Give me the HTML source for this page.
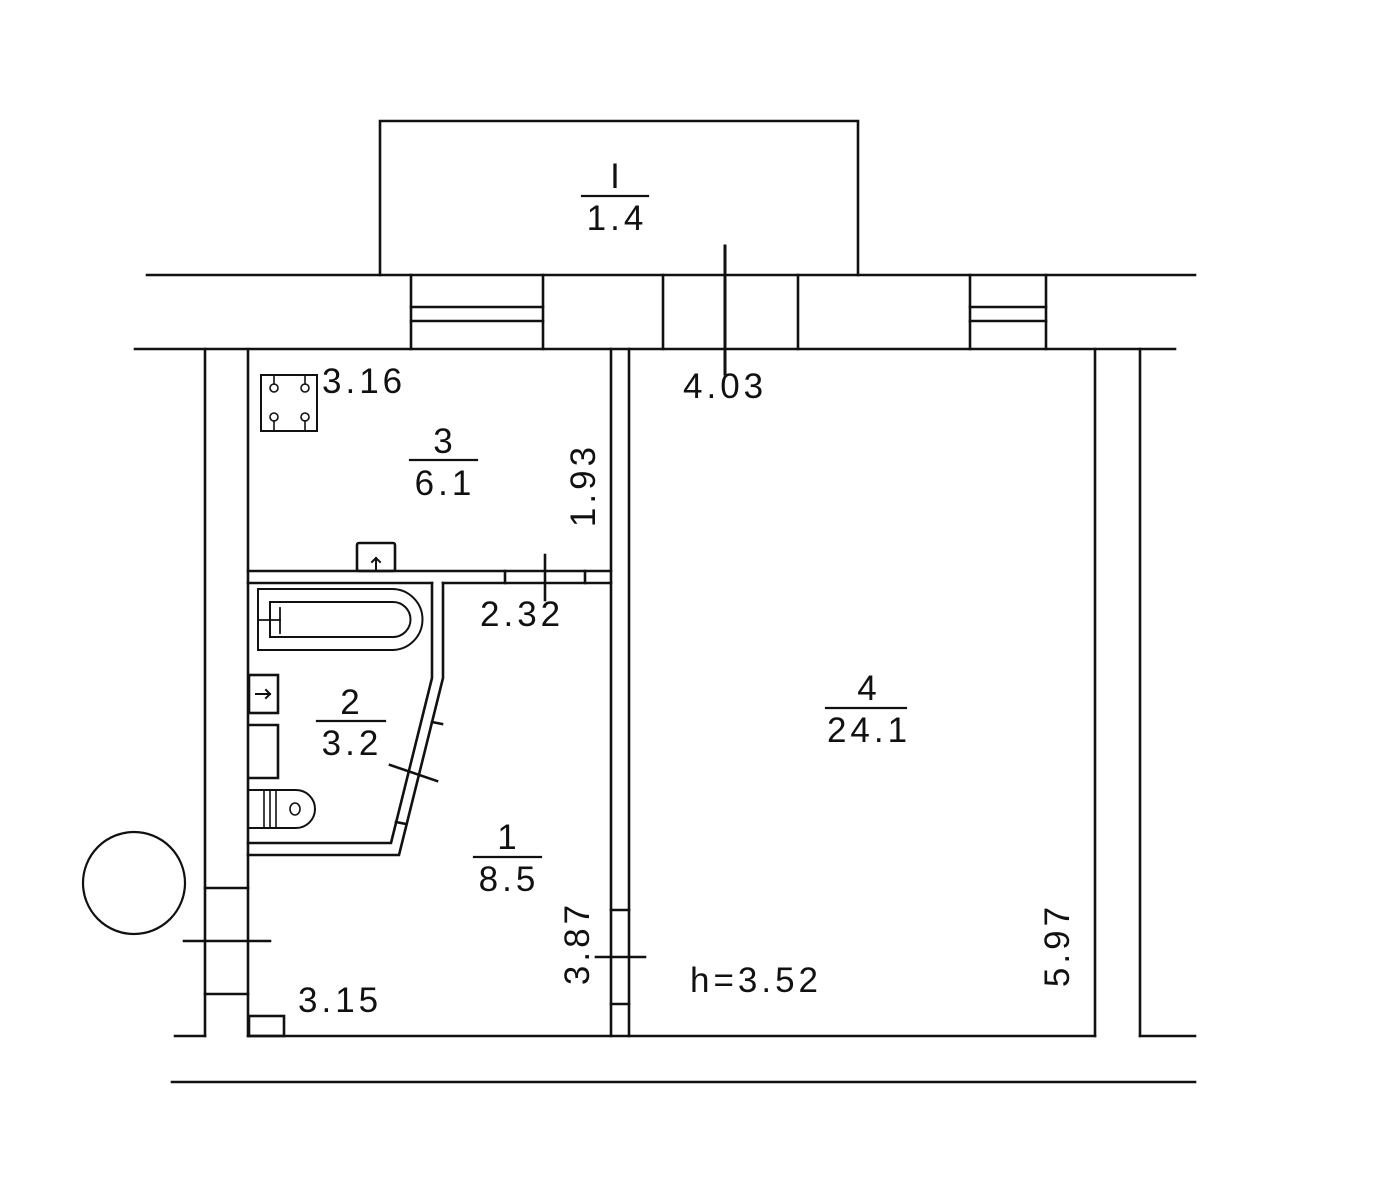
<!DOCTYPE html>
<html><head><meta charset="utf-8"><style>
html,body{margin:0;padding:0;background:#fff;}
svg{display:block;}
text{font-family:"Liberation Sans",sans-serif;font-size:35px;fill:#111;letter-spacing:4px;}
</style></head><body>
<svg width="1386" height="1200" viewBox="0 0 1386 1200" xmlns="http://www.w3.org/2000/svg">
<g stroke="#111" stroke-width="2.6" fill="none" stroke-linecap="square">
<polyline points="380,275 380,121 858,121 858,275"/>
<line x1="147" y1="275" x2="1195" y2="275"/>
<line x1="135" y1="349" x2="1175" y2="349"/>
<line x1="411" y1="275" x2="411" y2="349"/><line x1="543" y1="275" x2="543" y2="349"/>
<line x1="411" y1="307" x2="543" y2="307"/><line x1="411" y1="321" x2="543" y2="321"/>
<line x1="663" y1="275" x2="663" y2="349"/><line x1="798" y1="275" x2="798" y2="349"/>
<line x1="970" y1="275" x2="970" y2="349"/><line x1="1046" y1="275" x2="1046" y2="349"/>
<line x1="970" y1="307" x2="1046" y2="307"/><line x1="970" y1="321" x2="1046" y2="321"/>
<line x1="725" y1="246" x2="725" y2="374" stroke-width="3"/>
<line x1="205" y1="349" x2="205" y2="1036"/>
<line x1="248" y1="349" x2="248" y2="1036"/>
<line x1="205" y1="888" x2="248" y2="888"/>
<line x1="205" y1="994" x2="248" y2="994"/>
<line x1="184" y1="941" x2="270" y2="941"/>
<line x1="175" y1="1036" x2="205" y2="1036"/>
<line x1="248" y1="1036" x2="1095" y2="1036"/>
<rect x="249" y="1016" width="35" height="20"/>
<line x1="1095" y1="349" x2="1095" y2="1036"/>
<line x1="1140" y1="349" x2="1140" y2="1036"/>
<line x1="1140" y1="1036" x2="1195" y2="1036"/>
<line x1="172" y1="1082" x2="1195" y2="1082"/>
<line x1="611" y1="349" x2="611" y2="1036"/>
<line x1="629" y1="349" x2="629" y2="1036"/>
<line x1="611" y1="910" x2="629" y2="910"/><line x1="611" y1="1004" x2="629" y2="1004"/>
<line x1="596" y1="957" x2="645" y2="957"/>
<line x1="248" y1="571" x2="611" y2="571"/>
<line x1="248" y1="583" x2="432" y2="583"/>
<line x1="443" y1="583" x2="611" y2="583"/>
<line x1="505" y1="571" x2="505" y2="583"/><line x1="585" y1="571" x2="585" y2="583"/>
<line x1="545" y1="555" x2="545" y2="600"/>
<polyline points="432,583 432,678 391,843 248,843"/>
<polyline points="443,583 443,678 399,855 248,855"/>
<line x1="432" y1="722" x2="442" y2="724"/>
<line x1="396" y1="822" x2="406" y2="824"/>
<line x1="390" y1="765" x2="437" y2="781"/>
<rect x="249" y="675" width="29" height="38"/>
<polyline points="249,725 278,725 278,778 249,778"/>
<line x1="256" y1="694" x2="270" y2="694" stroke-width="2"/>
<polyline points="266,690 270,694 266,698" stroke-width="2"/>
<path d="M249,790 H296 A19,19 0 0 1 296,828 H249" stroke-width="2"/>
<line x1="264" y1="790" x2="264" y2="828" stroke-width="1.6"/>
<line x1="270" y1="790" x2="270" y2="828" stroke-width="1.6"/>
<line x1="276" y1="790" x2="276" y2="828" stroke-width="1.6"/>
<ellipse cx="295" cy="809" rx="5" ry="6" stroke-width="1.6"/>
<path d="M258,589 H392 A30.5,30.5 0 0 1 392,650 H258 Z" stroke-width="2"/>
<path d="M270,602 H393 A17.5,17.5 0 0 1 393,637 H270 Z" stroke-width="2"/>
<line x1="258" y1="620" x2="280" y2="620" stroke-width="1.8"/>
<line x1="280" y1="608" x2="280" y2="633" stroke-width="1.8"/>
<rect x="261" y="375" width="56" height="56" stroke-width="2"/>
<g stroke-width="1.6">
<circle cx="274" cy="388" r="4"/><circle cx="305" cy="388" r="4"/>
<circle cx="274" cy="417" r="4"/><circle cx="305" cy="417" r="4"/>
<line x1="274" y1="375" x2="274" y2="384"/><line x1="305" y1="375" x2="305" y2="384"/>
<line x1="274" y1="421" x2="274" y2="431"/><line x1="305" y1="421" x2="305" y2="431"/>
</g>
<rect x="357" y="543" width="38" height="28" rx="2"/>
<line x1="376" y1="558" x2="376" y2="570" stroke-width="2"/>
<polyline points="372,562 376,558 380,562" stroke-width="2"/>
<circle cx="134" cy="883" r="51" stroke-width="2.2"/>
<g stroke-width="2.2">
<line x1="582" y1="196" x2="648" y2="196"/>
<line x1="410" y1="460" x2="477" y2="460"/>
<line x1="317" y1="721" x2="385" y2="721"/>
<line x1="826" y1="708" x2="906" y2="708"/>
<line x1="474" y1="857" x2="541" y2="857"/>
</g>
</g>
<text x="617" y="188" text-anchor="middle">I</text>
<text x="617" y="230" text-anchor="middle">1.4</text>
<text x="322" y="393">3.16</text>
<text x="445" y="453" text-anchor="middle">3</text>
<text x="445" y="495" text-anchor="middle">6.1</text>
<text transform="translate(595,485) rotate(-90)" text-anchor="middle">1.93</text>
<text x="480" y="626">2.32</text>
<text x="683" y="398">4.03</text>
<text x="352" y="714" text-anchor="middle">2</text>
<text x="352" y="755" text-anchor="middle">3.2</text>
<text x="869" y="700" text-anchor="middle">4</text>
<text x="869" y="742" text-anchor="middle">24.1</text>
<text x="509" y="849" text-anchor="middle">1</text>
<text x="509" y="891" text-anchor="middle">8.5</text>
<text transform="translate(589,943) rotate(-90)" text-anchor="middle">3.87</text>
<text x="690" y="992">h=3.52</text>
<text transform="translate(1069,945) rotate(-90)" text-anchor="middle">5.97</text>
<text x="298" y="1012">3.15</text>
</svg>
</body></html>
